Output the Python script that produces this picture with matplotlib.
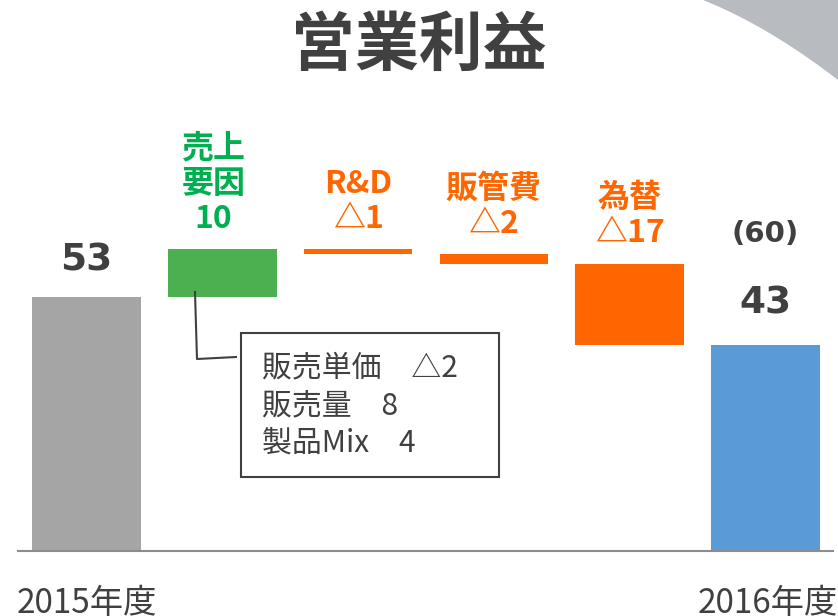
import matplotlib
import numpy as np
from matplotlib import pyplot as plt
from matplotlib.patches import Polygon, Rectangle

plt.rcParams["font.family"] = ["Noto Sans CJK JP", "DejaVu Sans"]

CATEGORIES = ["2015年度", "売上要因", "R&D", "販管費", "為替", "2016年度"]
VALUES = [53, 10, -1, -2, -17, 43]
COLORS = ["#a5a5a5", "#4caf50", "#ff6600", "#ff6600", "#ff6600", "#5b9bd5"]
STEP_LABELS = ["売上\n要因\n10", "R&D\n△1", "販管費\n△2", "為替\n△17"]
STEP_COLORS = ["#00b050", "#ff6600", "#ff6600", "#ff6600"]
TOTAL_CHANGE = "(60)"
DETAIL_LINES = ["販売単価　△2", "販売量　8", "製品Mix　4"]

W, H = 838, 616
fig = plt.figure(figsize=(W / 100, H / 100), dpi=100)
ax = fig.add_axes([0, 0, 1, 1])
ax.set_xlim(-0.637, 5.534)
ax.set_ylim(-13.57, 115.0)
ax.axis("off")

# waterfall bottoms
bottoms = []
level = 0
for i, v in enumerate(VALUES):
    if i == 0 or i == len(VALUES) - 1:
        bottoms.append(0)
        level = v if i == 0 else level
    else:
        bottoms.append(level + min(v, 0))
        level += v
heights = [abs(v) for v in VALUES]

x = np.arange(len(VALUES))
ax.bar(x, heights, bottom=bottoms, width=0.8, color=COLORS, zorder=2)
ax.axhline(0, xmin=18 / W, xmax=833 / W, color="#8c8c8c", lw=1.5, zorder=3)

dark = "#404040"
latin = ["DejaVu Sans", "Noto Sans CJK JP"]
# total labels
ax.text(x[0], VALUES[0] + 7.7, str(VALUES[0]), ha="center", va="center",
        fontsize=27, fontweight="bold", color=dark, family=latin)
ax.text(x[-1], VALUES[-1] + 8.6, str(VALUES[-1]), ha="center", va="center",
        fontsize=27, fontweight="bold", color=dark, family=latin)
ax.text(x[-1], VALUES[-1] + 23.2, TOTAL_CHANGE, ha="center", va="center",
        fontsize=21, fontweight="bold", color=dark, family=latin)

# step labels
for i, (lab, c) in enumerate(zip(STEP_LABELS, STEP_COLORS), start=1):
    top = bottoms[i] + heights[i]
    dx = -0.066 if i == 1 else 0
    ax.text(x[i] + dx, top + 3.0, lab, ha="center", va="bottom", fontsize=23,
            fontweight="bold", color=c, linespacing=1.12)

# category labels
ax.text(x[0], -11.0, CATEGORIES[0], ha="center", va="center", fontsize=24, color=dark)
ax.text(x[-1] + 0.02, -11.0, CATEGORIES[-1], ha="center", va="center", fontsize=24, color=dark)

# title
fig.text(0.5, 1 - 46 / H, "営業利益", ha="center", va="center", fontsize=46,
         fontweight="bold", color=dark)

# corner decoration (slightly curved edge)
t = np.linspace(0, 1, 20)
p0, p1, p2 = np.array([703, 0]), np.array([768, 26]), np.array([838, 80])
curve = [(1 - s) ** 2 * p0 + 2 * (1 - s) * s * p1 + s ** 2 * p2 for s in t]
pts = [(px / W, 1 - py / H) for px, py in curve] + [(1, 1)]
fig.patches.append(Polygon(pts, closed=True, transform=fig.transFigure,
                           facecolor="#b8bcc1", edgecolor="none"))

# detail box
fig.patches.append(Rectangle((241 / W, 1 - 477 / H), 258 / W, 144 / H,
                             transform=fig.transFigure, facecolor="white",
                             edgecolor=dark, lw=1.5))
for j, line in enumerate(DETAIL_LINES):
    fig.text(262 / W, 1 - (368 + 37.5 * j) / H, line, ha="left", va="center",
             fontsize=21.5, color=dark)
fig.lines.append(matplotlib.lines.Line2D([195 / W, 197 / W, 236 / W],
                                         [1 - 292 / H, 1 - 359 / H, 1 - 357 / H],
                                         transform=fig.transFigure, color=dark, lw=1.5))

fig.savefig("out.png", dpi=100)
